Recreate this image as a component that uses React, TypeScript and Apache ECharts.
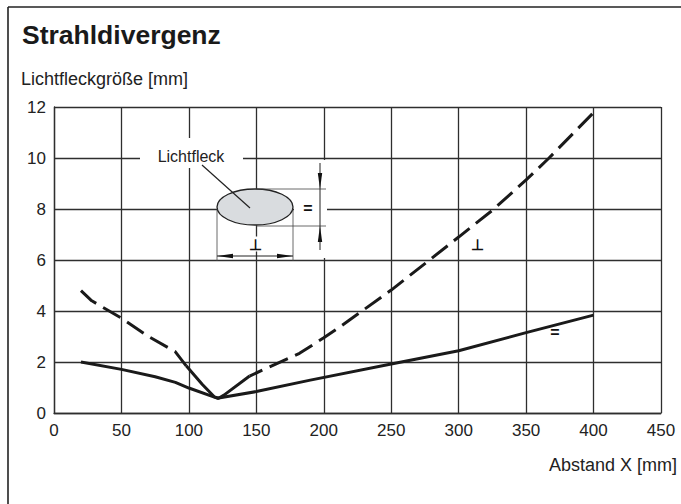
import React, { useEffect, useRef } from 'react';
import * as echarts from 'echarts';

const xMin = 0, xMax = 450, xStep = 50;
const yMin = 0, yMax = 12, yStep = 2;

// "=" (parallel) spot size, solid line
const parallelX = [20, 50, 75, 90, 100, 121, 150, 190, 250, 300, 350, 400];
const parallelY = [2.0, 1.71, 1.42, 1.2, 0.98, 0.58, 0.84, 1.29, 1.92, 2.44, 3.15, 3.84];

// "⊥" (perpendicular) spot size, dashed line with a solid waist
const perpLeftX = [20, 28, 50, 70, 90, 98];
const perpLeftY = [4.8, 4.4, 3.72, 3.0, 2.4, 1.85];
const perpMidX = [98, 110, 119, 122, 126, 145];
const perpMidY = [1.85, 1.12, 0.63, 0.58, 0.7, 1.45];
const perpRightX = [145, 182, 200, 212, 250, 300, 325, 350, 367, 400];
const perpRightY = [1.45, 2.34, 2.95, 3.38, 4.82, 6.9, 7.95, 9.14, 10.0, 11.78];

const titleText = 'Strahldivergenz';
const yName = 'Lichtfleckgröße [mm]';
const xName = 'Abstand X [mm]';
const spotLabel = 'Lichtfleck';

const zip = (xs: number[], ys: number[]) => xs.map((x, i) => [x, ys[i]]);

const INK = '#1a1a1a';
const GRID = '#2e2e2e';
const FONT = '"Liberation Sans", Arial, Helvetica, sans-serif';

export default function App() {
  const ref = useRef<HTMLDivElement>(null);
  useEffect(() => {
    if (!ref.current) return;
    const chart = echarts.init(ref.current, null, { renderer: 'svg' });
    const lineBase = { type: 'line', symbol: 'none', showSymbol: false, silent: true, z: 5 };
    const thin = { stroke: '#444', lineWidth: 0.8 };
    chart.setOption({
      animation: false,
      backgroundColor: '#ffffff',
      grid: { left: 54, top: 107, right: 20, bottom: 91 },
      xAxis: {
        type: 'value', min: xMin, max: xMax, interval: xStep,
        axisLine: { show: true, lineStyle: { color: GRID, width: 1.3 } },
        axisTick: { show: false },
        splitLine: { show: true, lineStyle: { color: GRID, width: 1.3 } },
        axisLabel: { color: '#222', fontSize: 17, fontFamily: FONT, margin: 9 },
      },
      yAxis: {
        type: 'value', min: yMin, max: yMax, interval: yStep,
        axisLine: { show: true, lineStyle: { color: GRID, width: 1.3 } },
        axisTick: { show: false },
        splitLine: { show: true, lineStyle: { color: GRID, width: 1.3 } },
        axisLabel: { color: '#222', fontSize: 17, fontFamily: FONT, margin: 8 },
      },
      series: [
        { ...lineBase, name: '=', data: zip(parallelX, parallelY),
          lineStyle: { color: INK, width: 3, join: 'round' } },
        { ...lineBase, name: '⊥ a', data: zip(perpLeftX, perpLeftY),
          lineStyle: { color: INK, width: 3, type: [20, 8], cap: 'butt' } },
        { ...lineBase, name: '⊥ b', data: zip(perpMidX, perpMidY),
          lineStyle: { color: INK, width: 3, join: 'round' } },
        { ...lineBase, name: '⊥ c', data: zip(perpRightX, perpRightY),
          lineStyle: { color: INK, width: 3, type: [20, 8], cap: 'butt', dashOffset: 6 } },
      ],
      graphic: [
        { type: 'line', z: 1, silent: true, shape: { x1: 8, y1: 7, x2: 681, y2: 7 }, style: { stroke: '#222', lineWidth: 1.6 } },
        { type: 'line', z: 1, silent: true, shape: { x1: 8, y1: 7, x2: 8, y2: 504 }, style: { stroke: '#222', lineWidth: 1.6 } },
        { type: 'text', z: 20, style: { text: titleText, x: 22, y: 35, font: `bold 26.5px ${FONT}`, fill: '#1a1a1a', align: 'left', verticalAlign: 'middle' } },
        { type: 'text', z: 20, style: { text: yName, x: 21, y: 79, font: `18px ${FONT}`, fill: '#222', align: 'left', verticalAlign: 'middle' } },
        { type: 'text', z: 20, style: { text: xName, x: 677, y: 465, font: `18px ${FONT}`, fill: '#222', align: 'right', verticalAlign: 'middle' } },
        // inset: spot label
        { type: 'rect', z: 20, silent: true, shape: { x: 140, y: 138, width: 103, height: 30 }, style: { fill: '#fff' } },
        { type: 'text', z: 21, style: { text: spotLabel, x: 191, y: 156, font: `16px ${FONT}`, fill: '#222', align: 'center', verticalAlign: 'middle' } },
        // inset: white backing for vertical dimension
        { type: 'rect', z: 20, silent: true, shape: { x: 294, y: 160, width: 33, height: 98 }, style: { fill: '#fff' } },
        // ellipse
        { type: 'ellipse', z: 21, shape: { cx: 255, cy: 207, rx: 38, ry: 18 }, style: { fill: '#d9dcdf', stroke: '#222', lineWidth: 1.3 } },
        // leader line
        { type: 'line', z: 22, shape: { x1: 202, y1: 165, x2: 250, y2: 208 }, style: { stroke: '#222', lineWidth: 1.2 } },
        // extension lines
        { type: 'line', z: 22, shape: { x1: 217, y1: 209, x2: 217, y2: 261 }, style: thin },
        { type: 'line', z: 22, shape: { x1: 293, y1: 209, x2: 293, y2: 261 }, style: thin },
        { type: 'line', z: 22, shape: { x1: 256, y1: 189, x2: 326, y2: 189 }, style: thin },
        { type: 'line', z: 22, shape: { x1: 256, y1: 226, x2: 326, y2: 226 }, style: thin },
        // horizontal dimension
        { type: 'line', z: 22, shape: { x1: 217, y1: 256, x2: 293, y2: 256 }, style: { stroke: '#222', lineWidth: 1 } },
        { type: 'polygon', z: 22, shape: { points: [[217, 256], [233, 253.8], [233, 258.2]] }, style: { fill: '#111' } },
        { type: 'polygon', z: 22, shape: { points: [[293, 256], [277, 253.8], [277, 258.2]] }, style: { fill: '#111' } },
        // vertical dimension
        { type: 'line', z: 22, shape: { x1: 320, y1: 163, x2: 320, y2: 250 }, style: { stroke: '#222', lineWidth: 1 } },
        { type: 'polygon', z: 22, shape: { points: [[320, 189], [317.8, 173], [322.2, 173]] }, style: { fill: '#111' } },
        { type: 'polygon', z: 22, shape: { points: [[320, 226], [317.8, 242], [322.2, 242]] }, style: { fill: '#111' } },
        { type: 'text', z: 23, style: { text: '=', x: 308, y: 208, font: `bold 16px ${FONT}`, fill: '#111', align: 'center', verticalAlign: 'middle' } },
        { type: 'text', z: 23, style: { text: '⊥', x: 255, y: 244, font: `bold 15px ${FONT}`, fill: '#111', align: 'center', verticalAlign: 'middle', backgroundColor: '#fff', padding: [0, 3] } },
        // curve labels
        { type: 'text', z: 23, style: { text: '⊥', x: 477, y: 244, font: `bold 15px ${FONT}`, fill: '#111', align: 'center', verticalAlign: 'middle' } },
        { type: 'text', z: 23, style: { text: '=', x: 555, y: 332, font: `bold 16px ${FONT}`, fill: '#111', align: 'center', verticalAlign: 'middle' } },
      ],
    });
    return () => chart.dispose();
  }, []);
  return <div ref={ref} style={{ position: 'absolute', left: 0, top: 0, width: 681, height: 504 }} />;
}
